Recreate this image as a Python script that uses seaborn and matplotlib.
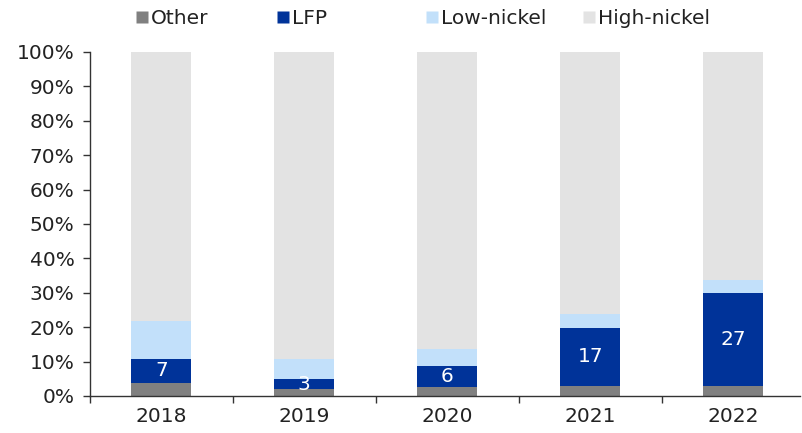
import matplotlib
matplotlib.use("Agg")
import matplotlib.pyplot as plt
from matplotlib.lines import Line2D
import seaborn as sns
import pandas as pd
import numpy as np

years = ["2018", "2019", "2020", "2021", "2022"]
other = [3.8, 1.9, 2.7, 2.9, 2.9]
lfp = [7, 3, 6, 17, 27]
low_nickel = [11.0, 5.9, 4.9, 3.8, 3.9]
high_nickel = [100 - o - l - n for o, l, n in zip(other, lfp, low_nickel)]

series_names = ["Other", "LFP", "Low-nickel", "High-nickel"]
colors = ["#808080", "#003399", "#C2E0FA", "#E3E3E3"]

sns.set_theme(style="white")
plt.rcParams["font.family"] = ["DejaVu Sans"]

df = pd.DataFrame({"year": years, "Other": other, "LFP": lfp,
                   "Low-nickel": low_nickel, "High-nickel": high_nickel})

fig = plt.figure(figsize=(8.02, 4.33), dpi=100)
ax = fig.add_axes([0.112, 0.0855, 0.886, 0.7945])

bottom = np.zeros(len(years))
for name, col in zip(series_names, colors):
    sns.barplot(data=df, x="year", y=name, color=col, width=0.42,
                bottom=bottom, ax=ax, saturation=1, edgecolor="none",
                linewidth=0)
    bottom = bottom + df[name].values

# labels for LFP
for i, (o, l) in enumerate(zip(other, lfp)):
    ax.text(i, o + l / 2, f"{l}", ha="center", va="center", color="white",
            fontsize=14.5)

ax.set_ylim(0, 100)
ax.set_xlim(-0.5, 4.47)
ax.set_yticks(np.arange(0, 101, 10))
ax.set_yticklabels([f"{v}%" for v in range(0, 101, 10)])
ax.set_xlabel("")
ax.set_ylabel("")

for s in ["top", "right"]:
    ax.spines[s].set_visible(False)
for s in ["left", "bottom"]:
    ax.spines[s].set_color("#333333")
    ax.spines[s].set_linewidth(1.0)

ax.tick_params(axis="y", which="major", direction="out", length=5,
               width=1, color="#333333", labelsize=14.5, labelcolor="#222222", pad=6, left=True)
ax.tick_params(axis="x", which="major", length=0, labelsize=14.5,
               labelcolor="#222222", pad=8)
ax.set_xticks(np.arange(-0.5, 4.5, 1.0), minor=True)
ax.tick_params(axis="x", which="minor", direction="out", length=5, width=1,
               color="#333333", bottom=True)

# legend entries placed in fixed slots
slot_x = [134, 275, 424, 581]
for name, col, sx in zip(series_names, colors, slot_x):
    h = Line2D([0], [0], marker="s", linestyle="none", markersize=9,
               markerfacecolor=col, markeredgecolor="none")
    leg = fig.legend([h], [name], loc="center left",
                     bbox_to_anchor=(sx / 802, 0.958), frameon=False,
                     fontsize=14.5, handletextpad=0.1, handlelength=0.75,
                     borderpad=0, borderaxespad=0, labelcolor="#222222")

fig.savefig("out.png", dpi=100)
